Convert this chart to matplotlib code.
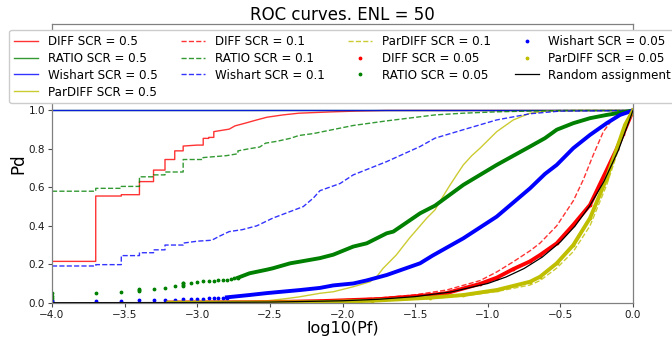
import matplotlib
matplotlib.use("Agg")
import matplotlib.pyplot as plt

# ---- ROC samples: x = log10(Pf), y = Pd ----------------------------------
# SCR = 0.5
diff_05_x = [-4.0, -3.699, -3.699, -3.523, -3.523, -3.398, -3.398, -3.301, -3.301,
             -3.222, -3.222, -3.155, -3.155, -3.097, -3.097, -3.0, -2.959, -2.959,
             -2.921, -2.921, -2.886, -2.886, -2.78, -2.74, -2.67, -2.59, -2.52, -2.41,
             -2.3, -2.07, -1.9, -1.7, 0.0]
diff_05_y = [0.215, 0.215, 0.555, 0.555, 0.562, 0.562, 0.630, 0.630, 0.690, 0.690,
             0.745, 0.745, 0.790, 0.790, 0.815, 0.820, 0.820, 0.855, 0.855, 0.860,
             0.860, 0.890, 0.903, 0.920, 0.934, 0.951, 0.965, 0.977, 0.986, 0.993,
             0.997, 1.0, 1.0]
ratio_05_x = [-4.0, 0.0]
ratio_05_y = [1.0, 1.0]
wishart_05_x = [-4.0, 0.0]
wishart_05_y = [1.0, 1.0]
pardiff_05_x = [-3.2, -2.9, -2.7, -2.52, -2.4, -2.3, -2.155, -2.063, -1.926, -1.81,
                -1.76, -1.72, -1.63, -1.54, -1.42, -1.363, -1.33, -1.27, -1.214,
                -1.168, -1.11, -1.053, -0.938, -0.824, -0.709, -0.6, -0.4, 0.0]
pardiff_05_y = [0.0, 0.001, 0.004, 0.01, 0.02, 0.03, 0.049, 0.057, 0.083, 0.109,
                0.14, 0.179, 0.248, 0.335, 0.44, 0.483, 0.526, 0.6, 0.665, 0.717,
                0.765, 0.804, 0.89, 0.951, 0.986, 0.997, 1.0, 1.0]

# SCR = 0.1
diff_01_x = [-3.2, -2.8, -2.5, -2.155, -1.742, -1.512, -1.283, -1.053, -0.938, -0.824,
             -0.709, -0.64, -0.525, -0.411, -0.342, -0.273, -0.204, -0.135, -0.067, 0.0]
diff_01_y = [0.001, 0.003, 0.005, 0.01, 0.025, 0.04, 0.066, 0.115, 0.16, 0.213,
             0.27, 0.31, 0.40, 0.53, 0.64, 0.77, 0.89, 0.96, 0.99, 1.0]
ratio_01_x = [-4.0, -3.699, -3.699, -3.523, -3.523, -3.398, -3.398, -3.301, -3.301,
              -3.222, -3.222, -3.097, -3.097, -2.96, -2.96, -2.8, -2.72, -2.72, -2.65,
              -2.57, -2.53, -2.45, -2.36, -2.3, -2.2, -2.155, -1.926, -1.696, -1.363,
              -1.168, -0.938, -0.709, -0.48, 0.0]
ratio_01_y = [0.58, 0.58, 0.595, 0.595, 0.605, 0.605, 0.655, 0.655, 0.665, 0.665,
              0.68, 0.68, 0.745, 0.745, 0.755, 0.765, 0.775, 0.79, 0.80, 0.81, 0.83,
              0.84, 0.855, 0.87, 0.88, 0.887, 0.922, 0.946, 0.977, 0.986, 0.993,
              0.997, 1.0, 1.0]
wishart_01_x = [-4.0, -3.699, -3.699, -3.523, -3.523, -3.398, -3.398, -3.301, -3.301,
                -3.222, -3.222, -3.097, -3.097, -3.0, -2.9, -2.85, -2.78, -2.69, -2.59,
                -2.48, -2.41, -2.27, -2.2, -2.155, -2.017, -1.926, -1.696, -1.466,
                -1.363, -1.168, -0.938, -0.709, -0.5, 0.0]
wishart_01_y = [0.191, 0.191, 0.198, 0.198, 0.245, 0.245, 0.26, 0.26, 0.275, 0.275,
                0.30, 0.30, 0.31, 0.32, 0.325, 0.345, 0.37, 0.38, 0.40, 0.44, 0.46,
                0.50, 0.545, 0.583, 0.62, 0.665, 0.734, 0.8125, 0.856, 0.90, 0.951,
                0.983, 0.997, 1.0]
pardiff_01_x = [-3.2, -2.6, -2.155, -1.8, -1.397, -1.168, -0.938, -0.709, -0.64,
                -0.525, -0.411, -0.296, -0.181, -0.112, -0.055, 0.0]
pardiff_01_y = [0.0, 0.001, 0.002, 0.008, 0.022, 0.035, 0.058, 0.092, 0.115, 0.18,
                0.266, 0.40, 0.613, 0.77, 0.91, 1.0]

# SCR = 0.05 (point clouds; isolated points at low Pf, dense band afterwards)
diff_005_x = [-3.2, -2.5, -2.155, -1.742, -1.397, -1.283, -1.053, -0.938, -0.824,
              -0.709, -0.64, -0.525, -0.411, -0.296, -0.181, -0.112, -0.067, 0.0]
diff_005_y = [0.001, 0.003, 0.008, 0.019, 0.04, 0.05, 0.098, 0.13, 0.175, 0.215,
              0.248, 0.309, 0.405, 0.509, 0.69, 0.80, 0.88, 1.0]

ratio_005_sparse_x = [-4.0, -4.0, -4.0, -4.0, -4.0, -3.699, -3.523, -3.398, -3.398,
                      -3.398, -3.301, -3.222, -3.155, -3.097, -3.097, -3.097, -3.097,
                      -3.046, -3.0, -2.959, -2.921, -2.886, -2.854, -2.824, -2.796,
                      -2.77, -2.745, -2.721]
ratio_005_sparse_y = [0.005, 0.015, 0.025, 0.037, 0.049, 0.049, 0.054, 0.060, 0.065,
                      0.070, 0.071, 0.078, 0.087, 0.088, 0.094, 0.10, 0.104, 0.104,
                      0.109, 0.111, 0.113, 0.114, 0.116, 0.118, 0.12, 0.123, 0.127, 0.13]
ratio_005_x = [-2.72, -2.64, -2.52, -2.48, -2.36, -2.29, -2.2, -2.155, -2.063, -1.926,
               -1.833, -1.696, -1.65, -1.466, -1.363, -1.168, -0.938, -0.709, -0.606,
               -0.525, -0.411, -0.296, -0.181, -0.067, 0.0]
ratio_005_y = [0.13, 0.153, 0.172, 0.179, 0.205, 0.214, 0.226, 0.232, 0.25, 0.292,
               0.309, 0.361, 0.37, 0.465, 0.505, 0.613, 0.717, 0.8125, 0.856, 0.90,
               0.934, 0.96, 0.977, 0.991, 1.0]

wishart_005_sparse_x = [-4.0, -4.0, -3.699, -3.523, -3.398, -3.301, -3.222, -3.155,
                        -3.097, -3.046, -3.0, -2.959, -2.921, -2.886, -2.854, -2.824,
                        -2.796]
wishart_005_sparse_y = [0.003, 0.008, 0.009, 0.010, 0.012, 0.014, 0.015, 0.016, 0.017,
                        0.018, 0.02, 0.021, 0.022, 0.022, 0.023, 0.025, 0.027]
wishart_005_x = [-2.796, -2.64, -2.52, -2.29, -2.155, -2.063, -1.926, -1.833, -1.696,
                 -1.466, -1.38, -1.168, -0.938, -0.709, -0.606, -0.525, -0.411,
                 -0.296, -0.181, -0.089, 0.0]
wishart_005_y = [0.028, 0.04, 0.05, 0.066, 0.077, 0.09, 0.10, 0.116, 0.144, 0.205,
                 0.245, 0.335, 0.448, 0.595, 0.67, 0.717, 0.804, 0.873, 0.934, 0.977,
                 1.0]

pardiff_005_x = [-3.2, -2.6, -2.155, -1.8, -1.397, -1.168, -0.938, -0.709, -0.64,
                 -0.525, -0.411, -0.296, -0.181, -0.112, -0.055, 0.0]
pardiff_005_y = [0.0, 0.001, 0.003, 0.01, 0.026, 0.04, 0.066, 0.109, 0.135, 0.205,
                 0.30, 0.44, 0.648, 0.80, 0.925, 1.0]

# Random assignment: Pd = Pf
random_x = [-4.0, -3.0, -2.5, -2.0, -1.75, -1.5, -1.25, -1.0, -0.875, -0.75, -0.625,
            -0.5, -0.4, -0.3, -0.2, -0.1, 0.0]
random_y = [0.0001, 0.001, 0.0032, 0.01, 0.0178, 0.0316, 0.0562, 0.1, 0.1334, 0.1778,
            0.2371, 0.3162, 0.3981, 0.5012, 0.631, 0.7943, 1.0]

x_ticks = [-4.0, -3.5, -3.0, -2.5, -2.0, -1.5, -1.0, -0.5, 0.0]
y_ticks = [0.0, 0.2, 0.4, 0.6, 0.8, 1.0]

# ---- figure -------------------------------------------------------------
W, H = 672, 338
fig = plt.figure(figsize=(W / 100, H / 100), dpi=100)
ax = fig.add_axes([52 / W, 1 - 302.7 / H, (633 - 52) / W, (302.7 - 24) / H])

LINE_W = 1.0
LINE_A = 0.8
BAND_W = 2.8
DOT_MS = 3.5

ax.plot(diff_05_x, diff_05_y, '-', color='r', lw=LINE_W, alpha=LINE_A, label='DIFF SCR = 0.5')
ax.plot(ratio_05_x, ratio_05_y, '-', color='g', lw=LINE_W, alpha=LINE_A, label='RATIO SCR = 0.5')
ax.plot(wishart_05_x, wishart_05_y, '-', color='b', lw=LINE_W, alpha=LINE_A, label='Wishart SCR = 0.5')
ax.plot(pardiff_05_x, pardiff_05_y, '-', color='y', lw=LINE_W, alpha=LINE_A, label='ParDIFF SCR = 0.5')

ax.plot(diff_01_x, diff_01_y, '--', color='r', lw=LINE_W, alpha=LINE_A, label='DIFF SCR = 0.1')
ax.plot(ratio_01_x, ratio_01_y, '--', color='g', lw=LINE_W, alpha=LINE_A, label='RATIO SCR = 0.1')
ax.plot(wishart_01_x, wishart_01_y, '--', color='b', lw=LINE_W, alpha=LINE_A, label='Wishart SCR = 0.1')
ax.plot(pardiff_01_x, pardiff_01_y, '--', color='y', lw=LINE_W, alpha=LINE_A, label='ParDIFF SCR = 0.1')

ax.plot(diff_005_x, diff_005_y, '-', color='r', lw=BAND_W)
ax.plot(diff_005_x, diff_005_y, '.', color='r', ms=DOT_MS, label='DIFF SCR = 0.05')
ax.plot(ratio_005_x, ratio_005_y, '-', color='g', lw=BAND_W)
ax.plot(ratio_005_sparse_x, ratio_005_sparse_y, '.', color='g', ms=DOT_MS, label='RATIO SCR = 0.05')
ax.plot(wishart_005_x, wishart_005_y, '-', color='b', lw=BAND_W)
ax.plot(wishart_005_sparse_x, wishart_005_sparse_y, '.', color='b', ms=DOT_MS, label='Wishart SCR = 0.05')
ax.plot(pardiff_005_x, pardiff_005_y, '-', color='y', lw=BAND_W)
ax.plot(pardiff_005_x, pardiff_005_y, '.', color='y', ms=DOT_MS, label='ParDIFF SCR = 0.05')

ax.plot(random_x, random_y, '-', color='k', lw=0.9, label='Random assignment')

ax.set_xlim(-4.0, 0.0)
ax.set_ylim(0.0, 1.45)
ax.set_xticks(x_ticks)
ax.set_yticks(y_ticks)
ax.tick_params(labelsize=7.5, length=3, width=0.8, color='0.3', labelcolor='0.1', pad=2)
for sp in ax.spines.values():
    sp.set_color('0.5')
    sp.set_linewidth(0.9)

ax.set_title('ROC curves. ENL = 50', fontsize=12, pad=3)
ax.set_xlabel('log10(Pf)', fontsize=11.5, labelpad=1)
ax.set_ylabel('Pd', fontsize=12, labelpad=1)

ax.legend(loc='upper center', ncol=4, fontsize=8.6, framealpha=1.0,
          labelspacing=0.33, handlelength=2.0, columnspacing=2.0, borderaxespad=0.5)

fig.savefig('out.png', dpi=100)
